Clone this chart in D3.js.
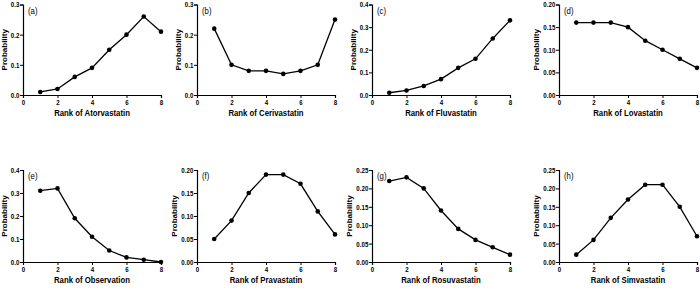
<!DOCTYPE html>
<html>
<head>
<meta charset="utf-8">
<script src="https://cdn.jsdelivr.net/npm/d3@7"></script>
<style>
  body { margin: 0; background: #fff; }
  svg { display: block; font-family: "Liberation Sans", Arial, sans-serif; }
</style>
</head>
<body>
<svg id="chart"></svg>
<script>
(() => {
// data
const ranks = [1, 2, 3, 4, 5, 6, 7, 8];
const drugs = ["Atorvastatin", "Cerivastatin", "Fluvastatin", "Lovastatin",
               "Observation", "Pravastatin", "Rosuvastatin", "Simvastatin"];
const panelLabels = ["(a)", "(b)", "(c)", "(d)", "(e)", "(f)", "(g)", "(h)"];
const atorvastatin = [0.01, 0.02, 0.06, 0.09, 0.15, 0.20, 0.26, 0.21];
const cerivastatin = [0.22, 0.10, 0.08, 0.08, 0.07, 0.08, 0.10, 0.25];
const fluvastatin  = [0.01, 0.02, 0.04, 0.07, 0.12, 0.16, 0.25, 0.33];
const lovastatin   = [0.16, 0.16, 0.16, 0.15, 0.12, 0.10, 0.08, 0.06];
const observation  = [0.31, 0.32, 0.19, 0.11, 0.05, 0.02, 0.01, 0.00];
const pravastatin  = [0.05, 0.09, 0.15, 0.19, 0.19, 0.17, 0.11, 0.06];
const rosuvastatin = [0.22, 0.23, 0.20, 0.14, 0.09, 0.06, 0.04, 0.02];
const simvastatin  = [0.02, 0.06, 0.12, 0.17, 0.21, 0.21, 0.15, 0.07];
const series = [atorvastatin, cerivastatin, fluvastatin, lovastatin,
                observation, pravastatin, rosuvastatin, simvastatin];
// y-axis tick values per panel
const yTicks = [
  [0, 0.1, 0.2, 0.3],
  [0, 0.1, 0.2, 0.3],
  [0, 0.1, 0.2, 0.3, 0.4],
  [0, 0.05, 0.10, 0.15, 0.20],
  [0, 0.1, 0.2, 0.3, 0.4],
  [0, 0.05, 0.10, 0.15, 0.20],
  [0, 0.05, 0.10, 0.15, 0.20, 0.25],
  [0, 0.05, 0.10, 0.15, 0.20, 0.25]
];
const yDecimals = [1, 1, 1, 2, 1, 2, 2, 2];
const xTicks = [0, 2, 4, 6, 8];

const width = 700, height = 292;
const svg = d3.select("#chart").attr("width", width).attr("height", height);

// panel layout
const colLeft = [23, 197, 372, 559];
const plotW = 138;
const rowBottom = [95, 262];
const plotH = [90.5, 92];
const squash = 0.82; // narrow text like the original

series.forEach((vals, i) => {
  const col = i % 4, row = Math.floor(i / 4);
  const h = plotH[row];
  const g = svg.append("g")
    .attr("transform", `translate(${colLeft[col]},${rowBottom[row] - h})`);

  const yt = yTicks[i];
  const x = d3.scaleLinear().domain([0, 8]).range([0, plotW]);
  const y = d3.scaleLinear().domain([0, yt[yt.length - 1]]).range([h, 0]);

  // axes
  const xAxis = g.append("g")
    .attr("transform", `translate(0,${h})`)
    .call(d3.axisBottom(x).tickValues(xTicks).tickFormat(d3.format("d")).tickSize(3).tickPadding(1.5));
  const yAxis = g.append("g")
    .call(d3.axisLeft(y).tickValues(yt).tickFormat(d3.format(`.${yDecimals[i]}f`)).tickSize(3).tickPadding(1.5));

  [xAxis, yAxis].forEach(a => {
    a.select(".domain").attr("stroke", "#000").attr("stroke-width", 1.2);
    a.selectAll(".tick line").attr("stroke", "#000").attr("stroke-width", 1);
    a.selectAll(".tick text")
      .attr("fill", "#000")
      .attr("transform", `scale(${squash},1)`)
      .style("font-size", "7.5px")
      .style("font-weight", "bold")
      .style("font-family", "'Liberation Sans', Arial, sans-serif");
  });

  // line + dots
  const line = d3.line().x((d, j) => x(ranks[j])).y(d => y(d));
  g.append("path")
    .datum(vals)
    .attr("d", line)
    .attr("fill", "none")
    .attr("stroke", "#000")
    .attr("stroke-width", 1.3);
  g.selectAll("circle")
    .data(vals)
    .join("circle")
    .attr("cx", (d, j) => x(ranks[j]))
    .attr("cy", d => y(d))
    .attr("r", 2.3)
    .attr("fill", "#000");

  // panel label
  g.append("text")
    .attr("transform", `translate(5,9) scale(${squash},1)`)
    .style("font-size", "9.5px")
    .text(panelLabels[i]);

  // axis titles
  g.append("text")
    .attr("transform", `translate(${plotW / 2},${h + 21}) scale(${squash},1)`)
    .attr("text-anchor", "middle")
    .style("font-size", "9.5px")
    .style("font-weight", "bold")
    .text(`Rank of ${drugs[i]}`);

  const off = yDecimals[i] === 2 ? 20 : 16;
  g.append("text")
    .attr("transform", `translate(${-off},${h / 2}) rotate(-90)`)
    .attr("text-anchor", "middle")
    .style("font-size", "8px")
    .style("font-weight", "bold")
    .text("Probability");
});
})();
</script>
</body>
</html>
